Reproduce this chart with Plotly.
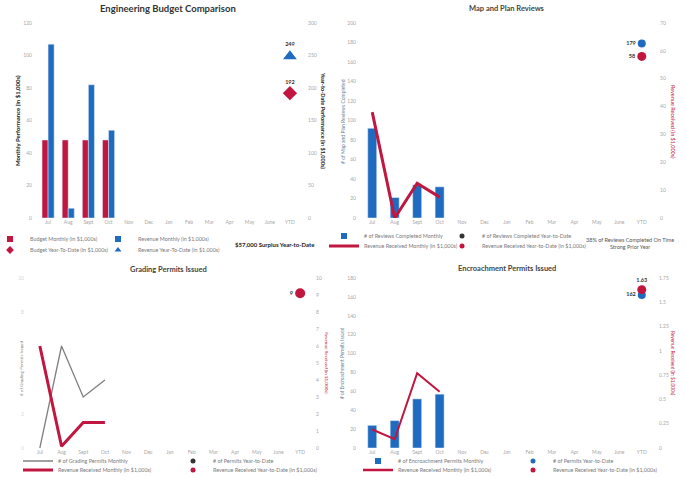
import plotly.graph_objects as go

W, H = 686, 477

# ---- data -------------------------------------------------------------
months = ["Jul", "Aug", "Sept", "Oct", "Nov", "Dec", "Jan", "Feb", "Mar",
          "Apr", "May", "June", "YTD"]
reported = months[:4]

# Engineering budget (in $1,000s)
budget_monthly = [48, 48, 48, 48]
revenue_monthly = [107, 6, 82, 54]

# Map and plan reviews
reviews_monthly = [92, 21, 34, 32]
review_revenue_monthly = [38, 0, 12.5, 7.5]
reviews_on_time_pct = 38

# Grading permits
grading_permits_monthly = [0, 6, 3, 4]
grading_revenue_monthly = [6.0, 0.1, 1.5, 1.5]

# Encroachment permits
encroach_permits_monthly = [24, 29, 52, 57]
encroach_revenue_monthly = [0.19, 0.09, 0.77, 0.58]

budget_ytd = sum(budget_monthly)
revenue_ytd = sum(revenue_monthly)
reviews_ytd = sum(reviews_monthly)
review_revenue_ytd = sum(review_revenue_monthly)
grading_permits_ytd = sum(grading_permits_monthly)
grading_revenue_ytd = sum(grading_revenue_monthly)
encroach_permits_ytd = sum(encroach_permits_monthly)
encroach_revenue_ytd = sum(encroach_revenue_monthly)

# ---- styling ----------------------------------------------------------
RED = "#C0163F"
BLUE = "#1F6BC0"
GRAY = "#7F7F7F"
FONT = "Lato"
TICK = dict(family=FONT, size=5, color="#A8A8A8")
LABEL = dict(family=FONT, size=5.5, color="#333333")
CLEAR = "rgba(0,0,0,0)"


def px_x(x):
    return x / W


def px_y(y):
    return 1 - y / H


fig = go.Figure()


def ytd_label(xa, ya, value, text, size, position):
    # transparent marker of the same size keeps the label clear of the point
    fig.add_scatter(x=["YTD"], y=[value], mode="markers+text", text=[f"<b>{text}</b>"],
                    textposition=position, textfont=LABEL,
                    marker=dict(size=size, color=CLEAR), hoverinfo="skip",
                    showlegend=False, xaxis=xa, yaxis=ya, cliponaxis=False)


# ---- panel 1: Engineering Budget Comparison ---------------------------
fig.add_bar(x=reported, y=budget_monthly, name="Budget Monthly (in $1,000s)",
            legendgroup="bm", showlegend=False,
            marker_color=RED, width=0.3, offset=-0.3, xaxis="x", yaxis="y")
fig.add_bar(x=reported, y=revenue_monthly, name="Revenue Monthly (in $1,000s)",
            legendgroup="rm", showlegend=False,
            marker_color=BLUE, width=0.3, offset=0.0, xaxis="x", yaxis="y")
fig.add_scatter(x=["YTD"], y=[budget_ytd], mode="markers",
                name="Budget Year-To-Date (in $1,000s)", legendgroup="by", showlegend=False,
                marker=dict(symbol="diamond", size=11, color=RED), xaxis="x", yaxis="y2")
fig.add_scatter(x=["YTD"], y=[revenue_ytd], mode="markers",
                name="Revenue Year-To-Date (in $1,000s)", legendgroup="ry", showlegend=False,
                marker=dict(symbol="triangle-up", size=12, color=BLUE), xaxis="x", yaxis="y2")
ytd_label("x", "y2", budget_ytd, f"{budget_ytd:.0f}", 11, "top center")
ytd_label("x", "y2", revenue_ytd, f"{revenue_ytd:.0f}", 12, "top center")

# ---- panel 2: Map and Plan Reviews -------------------------------------
fig.add_bar(x=reported, y=reviews_monthly, name="# of Reviews Completed Monthly",
            legendgroup="p2a", showlegend=False,
            marker_color=BLUE, width=0.4, xaxis="x2", yaxis="y3")
fig.add_scatter(x=["YTD"], y=[reviews_ytd], mode="markers",
                name="# of Reviews Completed Year-to-Date", legendgroup="p2b", showlegend=False,
                marker=dict(size=8, color=BLUE), xaxis="x2", yaxis="y3")
fig.add_scatter(x=reported, y=review_revenue_monthly, mode="lines",
                name="Revenue Received Monthly (in $1,000s)", legendgroup="p2c", showlegend=False,
                line=dict(color=RED, width=3), xaxis="x2", yaxis="y4")
fig.add_scatter(x=["YTD"], y=[review_revenue_ytd], mode="markers",
                name="Revenue Received Year-to-Date (in $1,000s)", legendgroup="p2d",
                showlegend=False, marker=dict(size=9, color=RED), xaxis="x2", yaxis="y4")
ytd_label("x2", "y3", reviews_ytd, f"{reviews_ytd:.0f}", 8, "middle left")
ytd_label("x2", "y4", review_revenue_ytd, f"{review_revenue_ytd:.0f}", 9, "middle left")

# ---- panel 3: Grading Permits Issued -----------------------------------
fig.add_scatter(x=reported, y=grading_permits_monthly, mode="lines",
                name="# of Grading Permits Monthly", legendgroup="p3a", showlegend=False,
                line=dict(color=GRAY, width=1.3), xaxis="x3", yaxis="y5")
fig.add_scatter(x=["YTD"], y=[grading_permits_ytd], mode="markers",
                name="# of Permits Year-to-Date", legendgroup="p3b", showlegend=False,
                marker=dict(size=8, color="#333333"), xaxis="x3", yaxis="y5")
fig.add_scatter(x=reported, y=grading_revenue_monthly, mode="lines",
                name="Revenue Received Monthly (in $1,000s)", legendgroup="p3c", showlegend=False,
                line=dict(color=RED, width=3), xaxis="x3", yaxis="y6")
fig.add_scatter(x=["YTD"], y=[grading_revenue_ytd], mode="markers",
                name="Revenue Received Year-to-Date (in $1,000s)", legendgroup="p3d",
                showlegend=False, marker=dict(size=10, color=RED), xaxis="x3", yaxis="y6")
ytd_label("x3", "y6", grading_revenue_ytd, f"{grading_revenue_ytd:.0f}", 10, "middle left")

# ---- panel 4: Encroachment Permits Issued ------------------------------
fig.add_bar(x=reported, y=encroach_permits_monthly,
            name="# of Encroachment Permits Monthly", legendgroup="p4a", showlegend=False,
            marker_color=BLUE, width=0.4, xaxis="x4", yaxis="y7")
fig.add_scatter(x=["YTD"], y=[encroach_permits_ytd], mode="markers",
                name="# of Permits Year-to-Date", legendgroup="p4b", showlegend=False,
                marker=dict(size=8, color=BLUE), xaxis="x4", yaxis="y7")
fig.add_scatter(x=reported, y=encroach_revenue_monthly, mode="lines",
                name="Revenue Received Monthly (in $1,000s)", legendgroup="p4c", showlegend=False,
                line=dict(color=RED, width=2), xaxis="x4", yaxis="y8")
fig.add_scatter(x=["YTD"], y=[encroach_revenue_ytd], mode="markers",
                name="Revenue Received Year-to-Date (in $1,000s)", legendgroup="p4d",
                showlegend=False, marker=dict(size=9, color=RED), xaxis="x4", yaxis="y8")
ytd_label("x4", "y7", encroach_permits_ytd, f"{encroach_permits_ytd:.0f}", 8, "middle left")
ytd_label("x4", "y8", encroach_revenue_ytd, f"{encroach_revenue_ytd:.2f}", 9, "top center")


# ---- axes -------------------------------------------------------------
def xax(x0, x1, anchor):
    return dict(domain=[px_x(x0), px_x(x1)], anchor=anchor, type="category",
                categoryorder="array", categoryarray=months, range=[-0.5, 12.5],
                tickfont=TICK, showgrid=False, zeroline=False, showline=False,
                ticks="", fixedrange=True)


def yax(y0, y1, anchor, rng, dtick, side="left", overlay=None, standoff=4):
    d = dict(anchor=anchor, range=rng, dtick=dtick, tickfont=TICK,
             showgrid=False, zeroline=False, showline=False, ticks="",
             side=side, ticklabelstandoff=standoff, fixedrange=True)
    if overlay:
        d["overlaying"] = overlay
    else:
        d["domain"] = [px_y(y1), px_y(y0)]
    return d


top_a, bot_a = 23, 218
top_b, bot_b = 278, 448

layout_axes = dict(
    xaxis=xax(38, 300, "y"),
    yaxis=yax(top_a, bot_a, "x", [0, 120], 20, standoff=5),
    yaxis2=yax(top_a, bot_a, "x", [0, 300], 50, side="right", overlay="y", standoff=7),
    xaxis2=xax(361, 653, "y3"),
    yaxis3=yax(top_a, bot_a, "x2", [0, 200], 20, standoff=4),
    yaxis4=yax(top_a, bot_a, "x2", [0, 70], 10, side="right", overlay="y3", standoff=6),
    xaxis3=xax(29, 311, "y5"),
    yaxis5=yax(top_b, bot_b, "x3", [0, 10], 2, standoff=4),
    yaxis6=yax(top_b, bot_b, "x3", [0, 10], 1, side="right", overlay="y5", standoff=4),
    xaxis4=xax(361, 653, "y7"),
    yaxis7=yax(top_b, bot_b, "x4", [0, 180], 20, standoff=4),
    yaxis8=yax(top_b, bot_b, "x4", [0, 1.75], 0.25, side="right", overlay="y7", standoff=5),
)
layout_axes["yaxis5"]["tickfont"] = dict(family=FONT, size=5, color="#D6D6D6")

# ---- legend: one single-entry legend per cell --------------------------
# (group, name, symbol style, symbol x px, row y px)
legend_cells = [
    ("bm", "Budget Monthly (in $1,000s)", dict(mode="markers", marker=dict(symbol="square", size=6, color=RED)), 10, 239),
    ("rm", "Revenue Monthly (in $1,000s)", dict(mode="markers", marker=dict(symbol="square", size=6, color=BLUE)), 118, 239),
    ("by", "Budget Year-To-Date (in $1,000s)", dict(mode="markers", marker=dict(symbol="diamond", size=6, color=RED)), 10, 250),
    ("ry", "Revenue Year-To-Date (in $1,000s)", dict(mode="markers", marker=dict(symbol="triangle-up", size=6, color=BLUE)), 118, 250),
    ("p2a", "# of Reviews Completed Monthly", dict(mode="markers", marker=dict(symbol="square", size=6, color=BLUE)), 344, 236),
    ("p2b", "# of Reviews Completed Year-to-Date", dict(mode="markers", marker=dict(size=5, color="#333333")), 462, 236),
    ("p2c", "Revenue Received Monthly (in $1,000s)", dict(mode="lines", line=dict(color=RED, width=3)), 344, 246),
    ("p2d", "Revenue Received Year-to-Date (in $1,000s)", dict(mode="markers", marker=dict(size=5, color=RED)), 462, 246),
    ("p3a", "# of Grading Permits Monthly", dict(mode="lines", line=dict(color=GRAY, width=1.3)), 38, 461),
    ("p3b", "# of Permits Year-to-Date", dict(mode="markers", marker=dict(size=5, color="#333333")), 193, 461),
    ("p3c", "Revenue Received Monthly (in $1,000s)", dict(mode="lines", line=dict(color=RED, width=3)), 38, 470),
    ("p3d", "Revenue Received Year-to-Date (in $1,000s)", dict(mode="markers", marker=dict(size=5, color=RED)), 193, 470),
    ("p4a", "# of Encroachment Permits Monthly", dict(mode="markers", marker=dict(symbol="square", size=6, color=BLUE)), 378, 461),
    ("p4b", "# of Permits Year-to-Date", dict(mode="markers", marker=dict(size=5, color=BLUE)), 533, 461),
    ("p4c", "Revenue Received Monthly (in $1,000s)", dict(mode="lines", line=dict(color=RED, width=2.5)), 378, 470),
    ("p4d", "Revenue Received Year-to-Date (in $1,000s)", dict(mode="markers", marker=dict(size=5, color=RED)), 533, 470),
]

legends = {}
for i, (group, name, style, sx, sy) in enumerate(legend_cells, start=1):
    key = "legend" if i == 1 else f"legend{i}"
    fig.add_scatter(x=[None], y=[None], name=name, legendgroup=group,
                    legend=key, xaxis="x", yaxis="y", hoverinfo="skip", **style)
    legends[key] = dict(orientation="h", x=px_x(sx - 20), y=px_y(sy), xanchor="left",
                        yanchor="middle", bgcolor=CLEAR, borderwidth=0,
                        font=dict(family=FONT, size=5.4, color="#7A7A7A"),
                        itemwidth=30, itemclick=False, itemdoubleclick=False)


# ---- titles and notes -------------------------------------------------
def note(text, x, y, size, color, angle=0, bold=False):
    return dict(text=f"<b>{text}</b>" if bold else text, x=px_x(x), y=px_y(y),
                xref="paper", yref="paper", showarrow=False, textangle=angle,
                xanchor="center", yanchor="middle",
                font=dict(family=FONT, size=size, color=color))


surplus = (revenue_ytd - budget_ytd) * 1000
annotations = [
    note("Engineering Budget Comparison", 168, 9, 9.5, "#333333", bold=True),
    note("Map and Plan Reviews", 507, 9, 7.5, "#444444", bold=True),
    note("Grading Permits Issued", 168, 269, 7.5, "#444444", bold=True),
    note("Encroachment Permits Issued", 507, 268, 7.5, "#444444", bold=True),
    note("Monthly Performance (in $1,000s)", 18, 121, 6, "#222222", -90, True),
    note("Year-to-Date Performance (in $1,000s)", 323, 120, 5.6, "#222222", 90, True),
    note("# of Map and Plan Reviews Completed", 343, 122, 5, "#6A7F99", -90),
    note("Revenue Received (in $1,000s)", 673, 122, 5.5, RED, 90),
    note("# of Grading Permits Issued", 21, 368, 4.6, "#888888", -90),
    note("Revenue Received (in $1,000s)", 327, 363, 4.6, RED, 90),
    note("# of Encroachment Permits Issued", 342, 363, 4.8, "#6A7F99", -90),
    note("Revenue Received (in $1,000s)", 673, 363, 4.8, RED, 90),
    note(f"${surplus:,.0f} Surplus Year-to-Date", 275, 244, 6, "#222222", bold=True),
    note(f"{reviews_on_time_pct}% of Reviews Completed On Time<br>Strong Prior Year",
         630, 243, 5.5, "#555555"),
]

fig.update_layout(
    width=W, height=H,
    margin=dict(l=0, r=0, t=0, b=0, autoexpand=False),
    paper_bgcolor="white", plot_bgcolor="white",
    barmode="group", font=dict(family=FONT),
    annotations=annotations, **layout_axes, **legends,
)

fig.write_html("out.html", config=dict(displayModeBar=False, responsive=False))
